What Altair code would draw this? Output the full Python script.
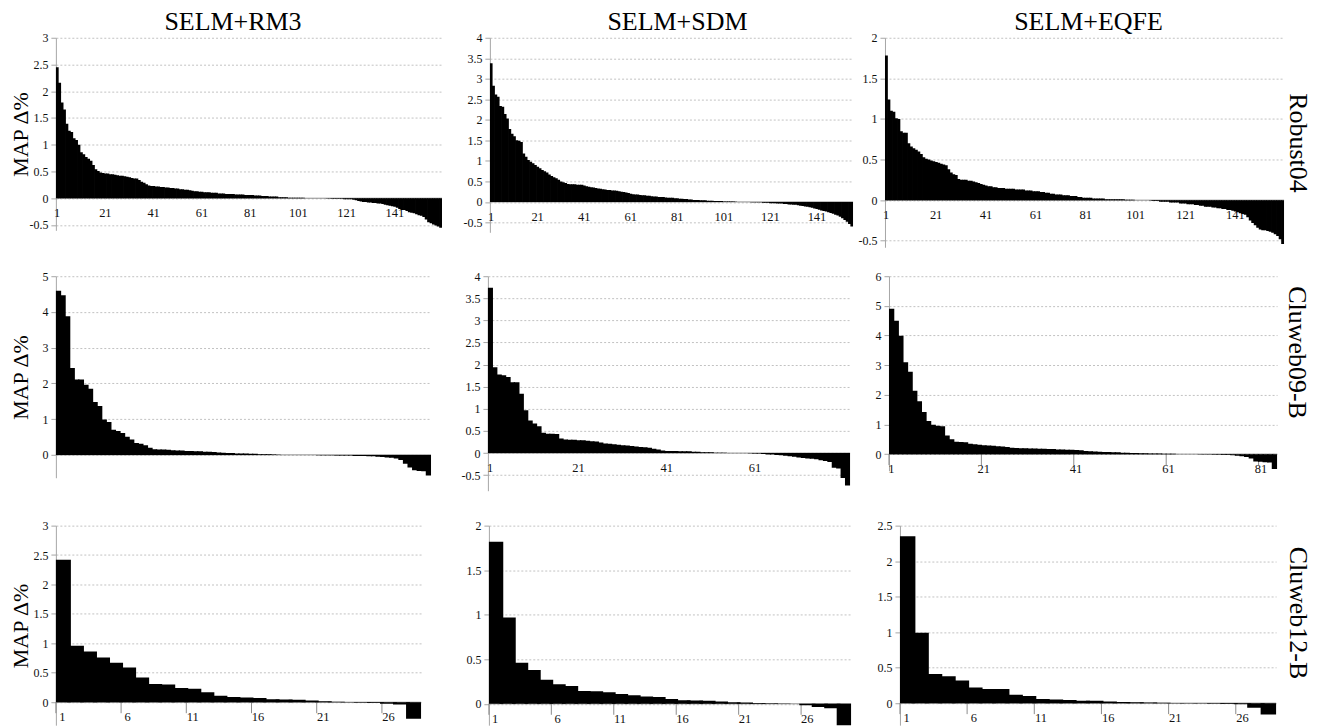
import altair as alt
import pandas as pd

SERIF = "Liberation Serif"

col_titles = ["SELM+RM3", "SELM+SDM", "SELM+EQFE"]
row_titles = ["Robust04", "Cluweb09-B", "Cluweb12-B"]
y_title = "MAP Δ%"

# ---------------- data (MAP delta %, sorted per query) ----------------
robust04_rm3 = [
    2.45, 2.16, 1.79, 1.66, 1.39, 1.26, 1.24, 1.12, 1.09, 1.00,
    0.86, 0.82, 0.77, 0.74, 0.70, 0.62, 0.54, 0.51, 0.48, 0.47,
    0.46, 0.46, 0.45, 0.45, 0.44, 0.43, 0.42, 0.42, 0.41, 0.40,
    0.39, 0.38, 0.37, 0.37, 0.34, 0.31, 0.29, 0.26, 0.24, 0.23,
    0.23, 0.22, 0.22, 0.21, 0.21, 0.20, 0.20, 0.19, 0.19, 0.18,
    0.18, 0.17, 0.17, 0.16, 0.16, 0.15, 0.14, 0.13, 0.13, 0.12,
    0.12, 0.11, 0.11, 0.11, 0.10, 0.10, 0.10, 0.09, 0.09, 0.09,
    0.08, 0.08, 0.08, 0.08, 0.07, 0.07, 0.07, 0.07, 0.06, 0.06,
    0.06, 0.06, 0.05, 0.05, 0.05, 0.04, 0.04, 0.04, 0.03, 0.03,
    0.03, 0.03, 0.02, 0.02, 0.02, 0.02, 0.01, 0.01, 0.01, 0.01,
    0.01, 0.01, 0.01, 0.00, 0.00, 0.00, 0.00, 0.00, 0.00, 0.00,
    0.00, 0.00, -0.005, -0.005, -0.01, -0.01, -0.01, -0.01, -0.01, -0.02,
    -0.02, -0.02, -0.02, -0.03, -0.04, -0.05, -0.06, -0.07, -0.07, -0.08,
    -0.08, -0.09, -0.09, -0.10, -0.10, -0.11, -0.12, -0.13, -0.14, -0.15,
    -0.16, -0.18, -0.20, -0.22, -0.22, -0.24, -0.26, -0.27, -0.28, -0.30,
    -0.32, -0.33, -0.35, -0.40, -0.45, -0.47, -0.49, -0.51, -0.53, -0.55,
]
robust04_sdm = [
    3.38, 2.83, 2.62, 2.56, 2.34, 2.32, 2.14, 2.03, 1.78, 1.66,
    1.60, 1.50, 1.49, 1.46, 1.18, 1.10, 1.02, 0.98, 0.94, 0.90,
    0.86, 0.82, 0.78, 0.75, 0.72, 0.67, 0.63, 0.60, 0.58, 0.54,
    0.50, 0.48, 0.46, 0.44, 0.43, 0.43, 0.43, 0.42, 0.42, 0.42,
    0.40, 0.38, 0.37, 0.36, 0.35, 0.34, 0.33, 0.32, 0.31, 0.30,
    0.29, 0.29, 0.28, 0.28, 0.27, 0.26, 0.25, 0.24, 0.23, 0.22,
    0.20, 0.19, 0.18, 0.18, 0.17, 0.16, 0.16, 0.15, 0.15, 0.14,
    0.13, 0.13, 0.12, 0.12, 0.12, 0.11, 0.10, 0.10, 0.10, 0.09,
    0.09, 0.08, 0.08, 0.07, 0.07, 0.06, 0.06, 0.05, 0.05, 0.05,
    0.04, 0.04, 0.04, 0.03, 0.03, 0.03, 0.02, 0.02, 0.02, 0.02,
    0.01, 0.01, 0.01, 0.01, 0.01, 0.005, 0.00, 0.00, 0.00, 0.00,
    0.00, 0.00, -0.005, -0.005, -0.01, -0.01, -0.01, -0.02, -0.02, -0.02,
    -0.03, -0.03, -0.03, -0.04, -0.04, -0.04, -0.05, -0.05, -0.06, -0.06,
    -0.07, -0.07, -0.08, -0.09, -0.10, -0.11, -0.12, -0.13, -0.14, -0.16,
    -0.17, -0.19, -0.21, -0.22, -0.23, -0.25, -0.27, -0.29, -0.31, -0.33,
    -0.36, -0.40, -0.44, -0.48, -0.54, -0.60,
]
robust04_eqfe = [
    1.78, 1.24, 1.10, 1.09, 1.01, 1.00, 0.85, 0.83, 0.83, 0.70,
    0.66, 0.64, 0.62, 0.60, 0.57, 0.53, 0.51, 0.50, 0.49, 0.48,
    0.47, 0.46, 0.45, 0.44, 0.43, 0.38, 0.34, 0.32, 0.31, 0.26,
    0.25, 0.25, 0.25, 0.24, 0.24, 0.23, 0.22, 0.21, 0.20, 0.19,
    0.18, 0.17, 0.17, 0.16, 0.16, 0.15, 0.15, 0.15, 0.14, 0.14,
    0.14, 0.14, 0.13, 0.13, 0.13, 0.13, 0.12, 0.12, 0.12, 0.11,
    0.11, 0.11, 0.10, 0.10, 0.09, 0.09, 0.08, 0.08, 0.07, 0.07,
    0.07, 0.06, 0.06, 0.06, 0.05, 0.05, 0.05, 0.04, 0.04, 0.03,
    0.03, 0.03, 0.03, 0.02, 0.02, 0.02, 0.02, 0.02, 0.01, 0.01,
    0.01, 0.01, 0.01, 0.01, 0.01, 0.01, 0.005, 0.005, 0.005, 0.005,
    0.00, 0.00, 0.00, 0.00, 0.00, 0.00, -0.005, -0.01, -0.01, -0.01,
    -0.02, -0.02, -0.02, -0.02, -0.03, -0.03, -0.03, -0.03, -0.04, -0.04,
    -0.04, -0.05, -0.05, -0.05, -0.06, -0.06, -0.07, -0.07, -0.08, -0.08,
    -0.08, -0.09, -0.09, -0.10, -0.10, -0.11, -0.11, -0.12, -0.12, -0.13,
    -0.14, -0.15, -0.16, -0.17, -0.18, -0.21, -0.25, -0.28, -0.31, -0.34,
    -0.36, -0.37, -0.37, -0.38, -0.39, -0.40, -0.42, -0.44, -0.48, -0.54,
]
cw09_rm3 = [
    4.59, 4.47, 3.88, 2.43, 2.11, 2.11, 1.96, 1.85, 1.48, 1.37,
    0.99, 0.92, 0.70, 0.67, 0.61, 0.51, 0.43, 0.33, 0.31, 0.27,
    0.20, 0.16, 0.15, 0.15, 0.14, 0.13, 0.12, 0.12, 0.11, 0.11,
    0.10, 0.10, 0.09, 0.09, 0.08, 0.07, 0.06, 0.05, 0.05, 0.04,
    0.04, 0.04, 0.03, 0.03, 0.02, 0.02, 0.015, 0.01, 0.005, 0.00,
    0.00, 0.00, 0.00, 0.00, 0.00, 0.00, -0.005, -0.01, -0.01, -0.01,
    -0.01, -0.02, -0.02, -0.02, -0.02, -0.03, -0.03, -0.03, -0.04, -0.04,
    -0.05, -0.06, -0.07, -0.08, -0.10, -0.14, -0.25, -0.35, -0.43, -0.45,
    -0.46, -0.58,
]
cw09_sdm = [
    3.74, 1.94, 1.78, 1.76, 1.72, 1.60, 1.60, 1.34, 0.97, 0.74,
    0.67, 0.61, 0.46, 0.44, 0.44, 0.43, 0.33, 0.31, 0.30, 0.30,
    0.29, 0.29, 0.28, 0.27, 0.26, 0.24, 0.22, 0.21, 0.20, 0.19,
    0.18, 0.17, 0.16, 0.15, 0.14, 0.13, 0.12, 0.10, 0.08, 0.06,
    0.05, 0.05, 0.05, 0.04, 0.04, 0.04, 0.03, 0.03, 0.02, 0.02,
    0.02, 0.01, 0.01, 0.01, 0.005, 0.00, 0.00, 0.00, 0.00, -0.005,
    -0.01, -0.01, -0.02, -0.03, -0.03, -0.04, -0.05, -0.06, -0.07, -0.08,
    -0.10, -0.11, -0.12, -0.13, -0.14, -0.16, -0.18, -0.20, -0.33, -0.35,
    -0.56, -0.73,
]
cw09_eqfe = [
    4.90, 4.50, 3.99, 3.10, 2.78, 2.14, 1.78, 1.42, 1.12, 0.99,
    0.96, 0.94, 0.63, 0.50, 0.42, 0.41, 0.40, 0.35, 0.33, 0.32,
    0.30, 0.29, 0.28, 0.27, 0.26, 0.24, 0.22, 0.21, 0.20, 0.20,
    0.19, 0.19, 0.18, 0.18, 0.17, 0.17, 0.16, 0.16, 0.15, 0.15,
    0.14, 0.13, 0.11, 0.10, 0.09, 0.08, 0.07, 0.07, 0.06, 0.06,
    0.05, 0.05, 0.04, 0.04, 0.03, 0.03, 0.02, 0.02, 0.02, 0.01,
    0.01, 0.01, 0.00, 0.00, 0.00, 0.00, -0.005, -0.01, -0.01, -0.01,
    -0.02, -0.02, -0.03, -0.03, -0.04, -0.05, -0.07, -0.10, -0.15, -0.25,
    -0.26, -0.27, -0.28, -0.50,
]
cw12_rm3 = [
    2.42, 0.96, 0.86, 0.76, 0.67, 0.59, 0.42, 0.31, 0.30, 0.24,
    0.23, 0.17, 0.11, 0.09, 0.08, 0.07, 0.05, 0.045, 0.04, 0.03,
    0.015, 0.01, 0.005, -0.01, -0.015, -0.025, -0.04, -0.28,
]
cw12_sdm = [
    1.82, 0.97, 0.46, 0.38, 0.27, 0.22, 0.20, 0.145, 0.14, 0.13,
    0.11, 0.095, 0.083, 0.076, 0.054, 0.04, 0.036, 0.033, 0.025, 0.018,
    0.014, 0.01, 0.007, 0.004, 0.0, -0.015, -0.035, -0.05, -0.30,
]
cw12_eqfe = [
    2.35, 0.99, 0.41, 0.38, 0.32, 0.22, 0.20, 0.20, 0.12, 0.10,
    0.06, 0.05, 0.045, 0.035, 0.033, 0.025, 0.018, 0.013, 0.008, 0.005,
    0.004, 0.003, -0.004, -0.008, -0.012, -0.015, -0.065, -0.16,
]

# y tick values per panel
yt_r04_rm3 = [-0.5, 0, 0.5, 1, 1.5, 2, 2.5, 3]
yt_r04_sdm = [-0.5, 0, 0.5, 1, 1.5, 2, 2.5, 3, 3.5, 4]
yt_r04_eqfe = [-0.5, 0, 0.5, 1, 1.5, 2]
yt_cw09_rm3 = [0, 1, 2, 3, 4, 5]
yt_cw09_sdm = [-0.5, 0, 0.5, 1, 1.5, 2, 2.5, 3, 3.5, 4]
yt_cw09_eqfe = [0, 1, 2, 3, 4, 5, 6]
yt_cw12_rm3 = [0, 0.5, 1, 1.5, 2, 2.5, 3]
yt_cw12_sdm = [0, 0.5, 1, 1.5, 2]
yt_cw12_eqfe = [0, 0.5, 1, 1.5, 2, 2.5]

# x category labels per panel
xl_robust04 = [1, 21, 41, 61, 81, 101, 121, 141]
xl_cw09_rm3 = []
xl_cw09_sdm = [1, 21, 41, 61]
xl_cw09_eqfe = [1, 21, 41, 61, 81]
xl_cw12 = [1, 6, 11, 16, 21, 26]

GRAY = "#8c8c8c"
LABEL = "#111111"


def panel(values, domain, yticks, xlabels, width, height, tick_marks=False,
          col_title=None, title_dx=0, row_title=None, row_pad=0, row_title_y=None,
          left_title=False):
    n = len(values)
    qs = list(range(1, n + 1))
    df = pd.DataFrame({"q": qs, "v": values})
    xs = alt.Scale(domain=qs, paddingInner=0, paddingOuter=0)
    ys = alt.Scale(domain=domain, nice=False, zero=False)

    axis_kw = dict(
        values=yticks, labelExpr="'' + datum.value", labelOverlap=False,
        grid=True, gridColor="#c2c2c2", gridDash=[2, 2], gridWidth=1,
        domainColor="#a6a6a6", tickColor="#a6a6a6", tickSize=5,
        labelFont=SERIF, labelFontSize=12, labelColor=LABEL, labelPadding=3,
    )
    if left_title:
        axis_kw.update(titleFont=SERIF, titleFontSize=22, titleFontWeight="normal",
                       titleColor="black", titlePadding=1, minExtent=22, maxExtent=22)
        ttl = y_title
    else:
        ttl = None
    yaxis = alt.Axis(**axis_kw)

    def ydatum():
        return alt.YDatum(0, scale=ys, axis=yaxis, title=ttl)

    layers = []
    lab_df = pd.DataFrame({"q": xlabels, "lab": [str(v) for v in xlabels]})
    if tick_marks and len(xlabels):
        layers.append(
            alt.Chart(lab_df).mark_rule(color=GRAY, strokeWidth=1, y2Offset=11).encode(
                x=alt.X("q:O", scale=xs, axis=None, bandPosition=0),
                y=ydatum(), y2=alt.Y2Datum(0)))
    layers.append(
        alt.Chart(pd.DataFrame({"z": [0]})).mark_rule(color=GRAY, strokeWidth=1).encode(
            y=ydatum()))
    if len(xlabels):
        layers.append(
            alt.Chart(lab_df).mark_text(font=SERIF, fontSize=12.5, color=LABEL, dy=15,
                                        baseline="middle", align="center").encode(
                x=alt.X("q:O", scale=xs, axis=None), y=ydatum(), text="lab:N"))
    layers.append(
        alt.Chart(df).mark_bar(color="black", width=alt.RelativeBandSize(1.3), clip=True).encode(
            x=alt.X("q:O", scale=xs, axis=None),
            y=alt.Y("v:Q", scale=ys, title=ttl, axis=yaxis)))
    ch = alt.layer(*layers)

    if row_title:
        rax = dict(orient="right", labels=False, ticks=False, domain=False,
                   grid=False, titleAngle=90, titleFont=SERIF,
                   titleFontSize=26, titleFontWeight="normal",
                   titleColor="black", titlePadding=row_pad,
                   minExtent=0, maxExtent=0)
        if row_title_y is not None:
            rax["titleY"] = row_title_y
        rl = alt.Chart(pd.DataFrame({"r": [0]})).mark_point(opacity=0).encode(
            y=alt.Y("r:Q", scale=alt.Scale(domain=domain, nice=False, zero=False),
                    title=row_title, axis=alt.Axis(**rax)))
        ch = alt.layer(ch, rl).resolve_scale(y="independent")

    props = dict(width=width, height=height)
    if col_title:
        props["title"] = alt.TitleParams(col_title, font=SERIF, fontSize=26,
                                         fontWeight="normal", color="black",
                                         anchor="middle", frame="group", offset=-3,
                                         dx=title_dx)
    return ch.properties(**props)


p11 = panel(robust04_rm3, [-0.6, 3], yt_r04_rm3, xl_robust04, 387, 193,
            col_title=col_titles[0], title_dx=-16, left_title=True)
p12 = panel(robust04_sdm, [-0.74, 4], yt_r04_sdm, xl_robust04, 364, 195,
            col_title=col_titles[1], title_dx=6)
p13 = panel(robust04_eqfe, [-0.58, 2], yt_r04_eqfe, xl_robust04, 400, 210,
            col_title=col_titles[2], title_dx=4, row_title=row_titles[0], row_pad=0)

p21 = panel(cw09_rm3, [-0.64, 5], yt_cw09_rm3, xl_cw09_rm3, 376, 202, left_title=True)
p22 = panel(cw09_sdm, [-0.85, 4], yt_cw09_sdm, xl_cw09_sdm, 363, 215)
p23 = panel(cw09_eqfe, [-0.56, 6], yt_cw09_eqfe, xl_cw09_eqfe, 389, 195,
            tick_marks=True, row_title=row_titles[1], row_pad=6, row_title_y=76)

p31 = panel(cw12_rm3, [-0.39, 3], yt_cw12_rm3, xl_cw12, 366, 200,
            tick_marks=True, left_title=True)
p32 = panel(cw12_sdm, [-0.24, 2], yt_cw12_sdm, xl_cw12, 363, 200, tick_marks=True)
p33 = panel(cw12_eqfe, [-0.31, 2.5], yt_cw12_eqfe, xl_cw12, 377, 200,
            tick_marks=True, row_title=row_titles[2], row_pad=8, row_title_y=87)

row1 = alt.hconcat(alt.hconcat(p11, p12, spacing=20), p13, spacing=4)
row2 = alt.hconcat(alt.hconcat(p21, p22, spacing=29), p23, spacing=24)
row3 = alt.hconcat(alt.hconcat(p31, p32, spacing=44), p33, spacing=25)

chart = alt.vconcat(alt.vconcat(row1, row2, spacing=23), row3, spacing=29).properties(
    padding={"left": 2, "top": 0, "right": 2, "bottom": 0}
).configure_view(stroke=None).configure_axis(labelOverlap=False)

chart.save("out.html", embed_options={"renderer": "svg", "actions": False})
